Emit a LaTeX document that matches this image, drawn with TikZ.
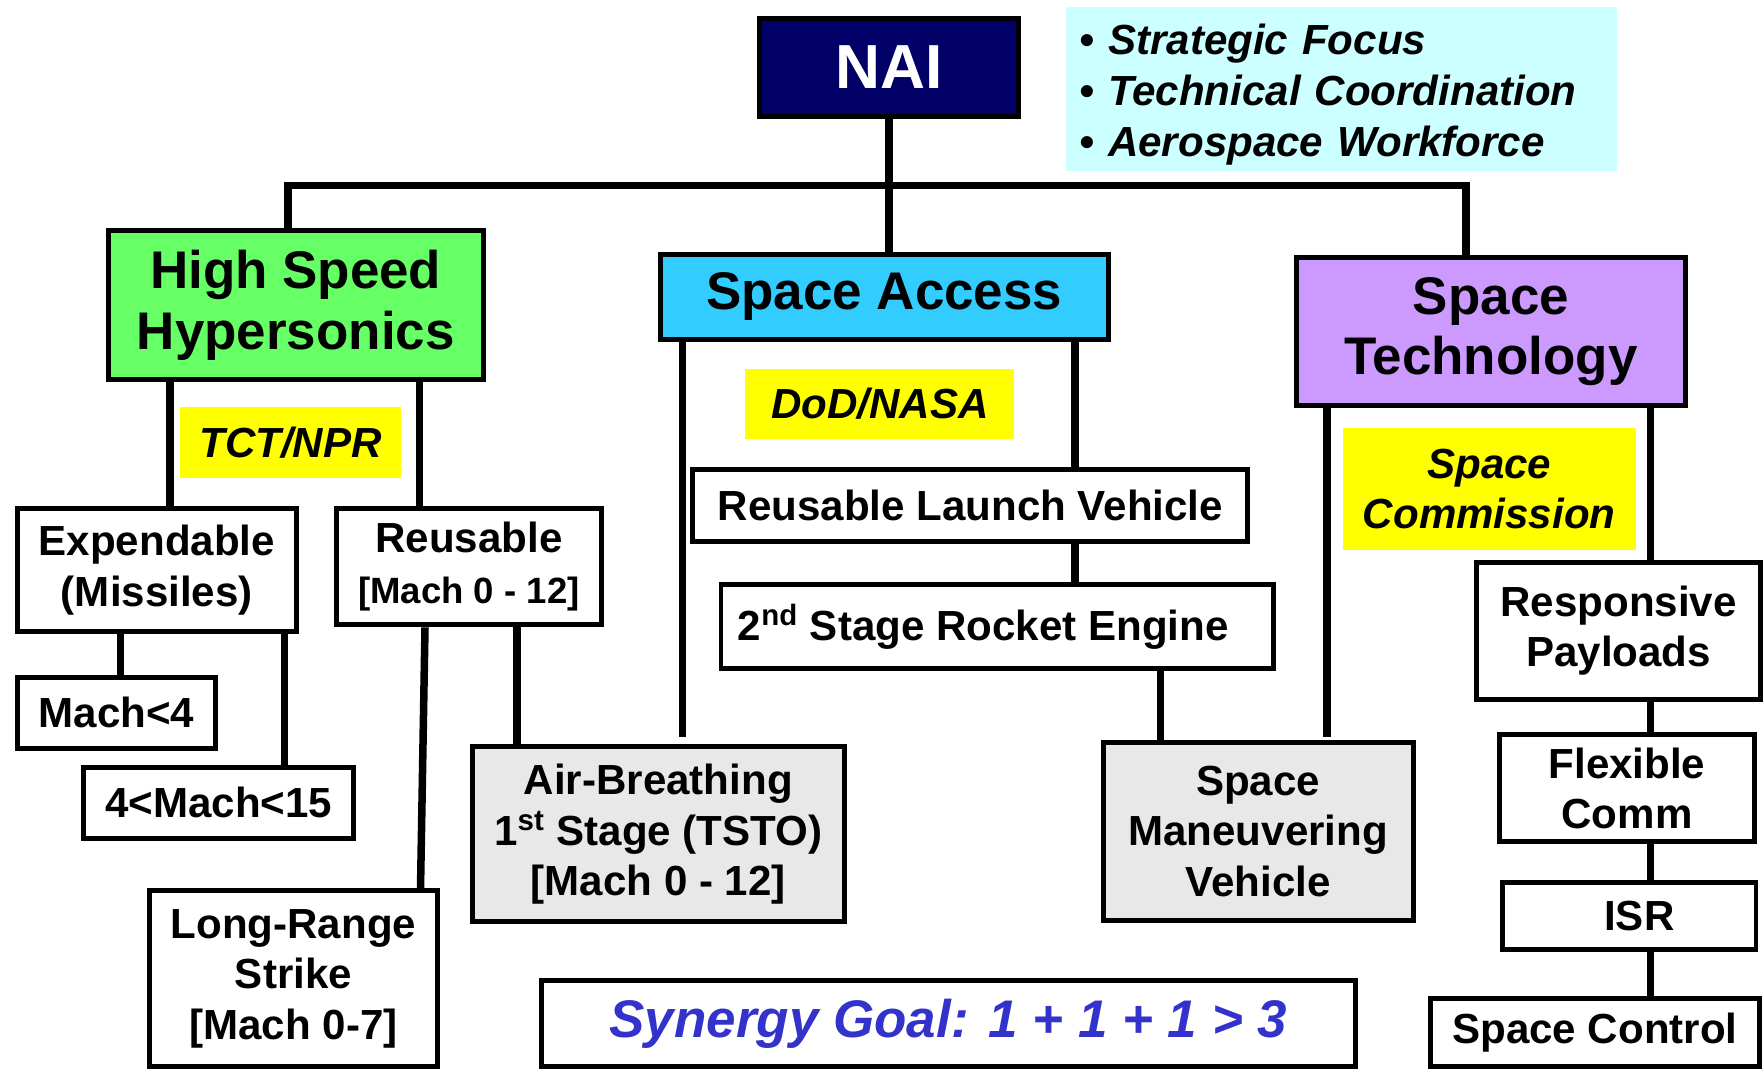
\documentclass[tikz,border=0pt]{standalone}
\usepackage{fontspec}
\setmainfont{Liberation Sans}
\usepackage{tikz}

\definecolor{naiblue}{HTML}{000066}
\definecolor{hshgreen}{HTML}{66FF66}
\definecolor{sablue}{HTML}{33CCFF}
\definecolor{stviolet}{HTML}{CC99FF}
\definecolor{tagyellow}{HTML}{FFFF00}
\definecolor{notecyan}{HTML}{CCFFFF}
\definecolor{vehgray}{HTML}{E8E8E8}
\definecolor{goalblue}{HTML}{3333CC}

\newcommand{\boxtxt}{\fontsize{21.3}{25.5}\selectfont\bfseries}
\newcommand{\headtxt}{\fontsize{26.8}{30.5}\selectfont\bfseries}
\newcommand{\naitxt}{\fontsize{31.5}{36}\selectfont\bfseries}

\tikzset{
  box/.style={draw, line width=2.5pt, fill=white, align=center, inner sep=0pt, font=\boxtxt},
  headbox/.style={box, font=\headtxt},
  graybox/.style={box, fill=vehgray},
  tag/.style={fill=tagyellow, align=center, inner sep=0pt, font=\boxtxt\itshape},
  link/.style={line width=3.8pt, line join=miter},
}

\begin{document}
\begin{tikzpicture}[x=0.2mm, y=-0.2mm]
    \useasboundingbox (0,0) rectangle (1568,951);
\node[box, fill=naiblue, text=white, font=\naitxt, minimum width=46.1mm, minimum height=17.5mm] (nai) at (790.5,60) {NAI}; % top
\node[fill=notecyan, align=left, font=\fontsize{21.3}{25.8}\selectfont\bfseries\itshape, inner xsep=2.4mm, inner ysep=0pt, text width=93.2mm, text height=7.5mm, minimum height=29.2mm] (goals) at (1193,79) {\textbullet\ Strategic Focus\\\textbullet\ Technical Coordination\\\textbullet\ Aerospace Workforce}; % goals
\node[headbox, fill=hshgreen, minimum width=66.7mm, minimum height=26.5mm] (hsh) at (263,271.5) {High Speed\\Hypersonics}; % branch.0
\node[headbox, fill=sablue, minimum width=79.7mm, minimum height=15.1mm] (sa) at (786.5,264) {Space Access}; % branch.1
\node[headbox, fill=stviolet, minimum width=69.1mm, minimum height=26.3mm] (st) at (1326,295) {Space\\Technology}; % branch.2
\node[tag, minimum width=39.4mm, minimum height=12.6mm] (tct) at (258.5,393.5) {TCT/NPR}; % branch.0
\node[tag, minimum width=47.8mm, minimum height=12.4mm] (dod) at (782.5,359) {DoD/NASA}; % branch.1
\node[tag, minimum width=52.2mm, minimum height=21.6mm] (comm) at (1324.5,435) {Space\\Commission}; % branch.2
\node[box, minimum width=49.7mm, minimum height=21.9mm] (exp) at (139.5,507) {Expendable\\(Missiles)}; % hsh
\node[box, minimum width=47.1mm, minimum height=20.7mm] (reu) at (417,504) {Reusable\\{\fontsize{18.5}{22}\selectfont [Mach 0 - 12]}}; % hsh
\node[box, minimum width=35.3mm, minimum height=12.7mm] (mlow) at (103.5,634) {Mach<4}; % exp
\node[box, minimum width=48.1mm, minimum height=12.7mm] (mhigh) at (194.5,714) {4<Mach<15}; % exp
\node[box, minimum width=51.1mm, minimum height=31.3mm] (lrs) at (261,870.5) {Long-Range\\Strike\\{}[Mach 0-7]}; % reu
\node[graybox, minimum width=66.1mm, minimum height=31.1mm] (abr) at (585.5,742) {Air-Breathing\\1\textsuperscript{st} Stage (TSTO)\\{}[Mach 0 - 12]}; % reu
\node[box, minimum width=98.7mm, minimum height=12.9mm] (rlv) at (863,449.5) {Reusable Launch Vehicle}; % sa
\node[box, minimum width=98.3mm, minimum height=14.9mm] (sre) at (887,557.5) {2\textsuperscript{nd} Stage Rocket Engine\hspace*{5mm}}; % rlv
\node[graybox, minimum width=55.1mm, minimum height=31.7mm] (smv) at (1119,739.5) {Space\\Maneuvering\\Vehicle}; % sre
\node[box, minimum width=50.5mm, minimum height=24.3mm] (rp) at (1439.5,561) {Responsive\\Payloads}; % st
\node[box, minimum width=45.5mm, minimum height=19.1mm] (fc) at (1447,701) {Flexible\\Comm}; % rp
\node[box, minimum width=45.1mm, minimum height=11.9mm] (isr) at (1449,815) {\hspace*{3.6mm}ISR}; % fc
\node[box, minimum width=58.5mm, minimum height=12.1mm] (sc) at (1418.5,918.5) {Space Control}; % isr
\node[box, text=goalblue, font=\headtxt\itshape, minimum width=144.9mm, minimum height=15.3mm] (syn) at (843.5,910.5) {Synergy Goal: 1 + 1 + 1 > 3}; % bottom
\coordinate (busL) at (256,165);
\coordinate (busR) at (1304,165);
\draw[link] (hsh.north -| busL) -- (busL) -- (busR) -- (st.north -| busR); % bus
\draw[link] (nai.south) -- (nai.south |- sa.north); % trunk
\draw[link] ([xshift=-22.4mm]hsh.south) -- ([xshift=-22.4mm]hsh.south |- exp.north); % hsh-exp
\draw[link] ([xshift=22mm]hsh.south) -- ([xshift=22mm]hsh.south |- reu.north); % hsh-reu
\draw[link] ([xshift=-6.5mm]exp.south) -- ([xshift=-6.5mm]exp.south |- mlow.north); % exp-mlow
\draw[link] ([xshift=22.7mm]exp.south) -- ([xshift=22.7mm]exp.south |- mhigh.north); % exp-mhigh
\draw[link] ([xshift=-7.8mm]reu.south) -- ([xshift=22.6mm]lrs.north); % reu-lrs
\draw[link] ([xshift=8.6mm]reu.south) -- ([xshift=8.6mm]reu.south |- abr.north); % reu-abr
\draw[link, shorten >=1.4mm] ([xshift=-35.9mm]sa.south) -- ([xshift=-35.9mm]sa.south |- abr.north); % sa-abr
\draw[link] ([xshift=33.9mm]sa.south) -- ([xshift=33.9mm]sa.south |- rlv.north); % sa-rlv
\draw[link] ([xshift=18.6mm]rlv.south) -- ([xshift=18.6mm]rlv.south |- sre.north); % rlv-sre
\draw[link] ([xshift=29mm]sre.south) -- ([xshift=29mm]sre.south |- smv.north); % sre-smv
\draw[link, shorten >=0.6mm] ([xshift=-29.2mm]st.south) -- ([xshift=-29.2mm]st.south |- smv.north); % st-smv
\draw[link] ([xshift=28.4mm]st.south) -- ([xshift=28.4mm]st.south |- rp.north); % st-rp
\draw[link] ([xshift=5.7mm]rp.south) -- ([xshift=5.7mm]rp.south |- fc.north); % rp-fc
\draw[link] ([xshift=4.2mm]fc.south) -- ([xshift=4.2mm]fc.south |- isr.north); % fc-isr
\draw[link] ([xshift=3.8mm]isr.south) -- ([xshift=3.8mm]isr.south |- sc.north); % isr-sc

    \end{tikzpicture}
\end{document}
